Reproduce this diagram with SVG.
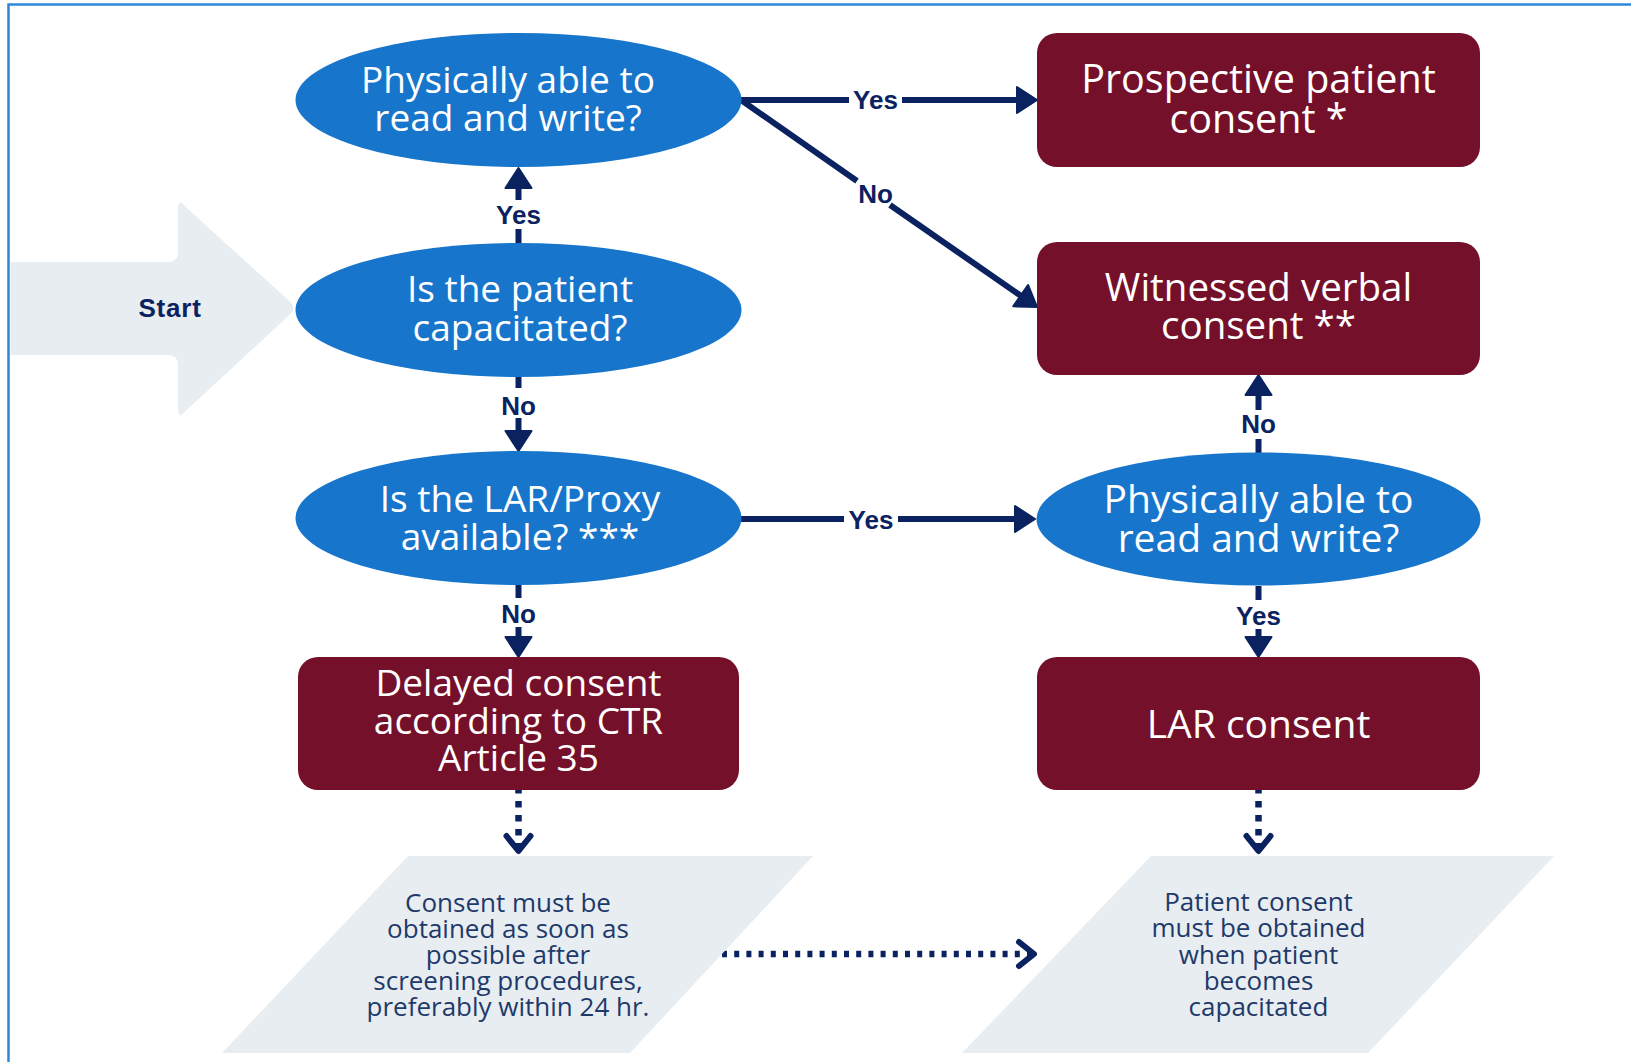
<svg xmlns="http://www.w3.org/2000/svg" width="1631" height="1062" viewBox="0 0 1631 1062">
<style>
.dec{fill:#1775cb}
.box{fill:#75102a}
.nt{font-family:"Open Sans","Liberation Sans",sans-serif;fill:#ffffff;text-anchor:middle}
.para{fill:#e8edf1}
.pt{font-family:"Open Sans","Liberation Sans",sans-serif;font-size:26px;fill:#1e3a6a;text-anchor:middle}
.lbl{font-family:"Liberation Sans","Open Sans",sans-serif;font-weight:bold;font-size:26px;fill:#0b2260;text-anchor:middle}
.ln{stroke:#0b2260;stroke-width:6;fill:none}
.dot{stroke:#0b2260;stroke-width:6.5;fill:none}
</style>
<defs>
<marker id="ah" markerUnits="userSpaceOnUse" viewBox="0 0 22 30" refX="9" refY="15" markerWidth="22" markerHeight="30" orient="auto" overflow="visible">
<path d="M1,2 L21,15 L1,28 Z" fill="#0b2260" stroke="#0b2260" stroke-width="2" stroke-linejoin="round"/>
</marker>
<marker id="cv" markerUnits="userSpaceOnUse" viewBox="-20 -16 24 32" refX="0" refY="0" markerWidth="24" markerHeight="32" orient="auto" overflow="visible">
<path d="M-15,-12 L0,0 L-15,12" fill="none" stroke="#0b2260" stroke-width="6" stroke-linecap="round" stroke-linejoin="round"/>
</marker>
</defs>
<rect width="1631" height="1062" fill="#ffffff"/>
<path d="M8.5,1062 V4.5 H1631" fill="none" stroke="#2b88dc" stroke-width="2.5"/>

<g id="start">
<path d="M10.5,262 H168 Q178,262 178,252 V210 Q178,197 185.4,206.7 L289.6,301.3 Q297,308 289.7,314.8 L185.3,411.2 Q178,420 178,408 V365 Q178,355 168,355 H10.5 Z" fill="#e8edf1"/>
<text x="170" y="317" class="lbl" style="font-size:26px;letter-spacing:0.8px">Start</text>
</g>

<g id="connectors">
<line class="ln" x1="518.5" y1="243" x2="518.5" y2="229"/>
<line class="ln" x1="518.5" y1="200" x2="518.5" y2="180" marker-end="url(#ah)"/>
<text class="lbl" x="518.5" y="224">Yes</text>

<line class="ln" x1="518.5" y1="377" x2="518.5" y2="388"/>
<line class="ln" x1="518.5" y1="418" x2="518.5" y2="439" marker-end="url(#ah)"/>
<text class="lbl" x="518.5" y="415">No</text>

<line class="ln" x1="518.5" y1="585" x2="518.5" y2="598"/>
<line class="ln" x1="518.5" y1="627" x2="518.5" y2="645" marker-end="url(#ah)"/>
<text class="lbl" x="518.5" y="623">No</text>

<line class="ln" x1="741" y1="100" x2="849" y2="100"/>
<line class="ln" x1="902" y1="100" x2="1025" y2="100" marker-end="url(#ah)"/>
<text class="lbl" x="875.5" y="108.5">Yes</text>

<line class="ln" x1="741" y1="100" x2="857" y2="181"/>
<line class="ln" x1="890" y1="205" x2="1027.2" y2="300.2" marker-end="url(#ah)"/>
<text class="lbl" x="875.5" y="203">No</text>

<line class="ln" x1="741" y1="519" x2="844" y2="519"/>
<line class="ln" x1="898" y1="519" x2="1023" y2="519" marker-end="url(#ah)"/>
<text class="lbl" x="871" y="528.5">Yes</text>

<line class="ln" x1="1258.5" y1="453" x2="1258.5" y2="439"/>
<line class="ln" x1="1258.5" y1="410" x2="1258.5" y2="387" marker-end="url(#ah)"/>
<text class="lbl" x="1258.5" y="433">No</text>

<line class="ln" x1="1258.5" y1="586" x2="1258.5" y2="600"/>
<line class="ln" x1="1258.5" y1="629" x2="1258.5" y2="645" marker-end="url(#ah)"/>
<text class="lbl" x="1258.5" y="625">Yes</text>

<line class="dot" x1="518.5" y1="787" x2="518.5" y2="851" stroke-dasharray="6.5 7.5" marker-end="url(#cv)"/>
<line class="dot" x1="1258.5" y1="787" x2="1258.5" y2="851" stroke-dasharray="6.5 7.5" marker-end="url(#cv)"/>
<line class="dot" x1="722" y1="954" x2="1034" y2="954" stroke-width="6" stroke-dasharray="5 7.2" marker-end="url(#cv)"/>
</g>

<g id="q-read-write-1">
<ellipse class="dec" cx="518.5" cy="100" rx="223" ry="67"/>
<text class="nt" x="508" y="93" font-size="37">Physically able to</text>
<text class="nt" x="508" y="131" font-size="37">read and write?</text>
</g>
<g id="q-capacitated">
<ellipse class="dec" cx="518.5" cy="310" rx="223" ry="67"/>
<text class="nt" x="520" y="302" font-size="37">Is the patient</text>
<text class="nt" x="520" y="341" font-size="37">capacitated?</text>
</g>
<g id="q-lar">
<ellipse class="dec" cx="518.5" cy="518" rx="223" ry="67"/>
<text class="nt" x="520" y="512" font-size="37">Is the LAR/Proxy</text>
<text class="nt" x="520" y="550" font-size="37">available? ***</text>
</g>
<g id="q-read-write-2">
<ellipse class="dec" cx="1258.5" cy="519" rx="222" ry="66.5"/>
<text class="nt" x="1258.5" y="513" font-size="39">Physically able to</text>
<text class="nt" x="1258.5" y="552" font-size="39">read and write?</text>
</g>

<g id="prospective">
<rect class="box" x="1037" y="33" width="443" height="134" rx="20"/>
<text class="nt" x="1258.5" y="92.5" font-size="39.5">Prospective patient</text>
<text class="nt" x="1258.5" y="132.5" font-size="39.5">consent *</text>
</g>
<g id="witnessed">
<rect class="box" x="1037" y="242" width="443" height="133" rx="20"/>
<text class="nt" x="1258.5" y="301" font-size="38.5">Witnessed verbal</text>
<text class="nt" x="1258.5" y="339" font-size="38.5">consent **</text>
</g>
<g id="delayed">
<rect class="box" x="298" y="657" width="441" height="133" rx="20"/>
<text class="nt" x="518.5" y="696" font-size="37">Delayed consent</text>
<text class="nt" x="518.5" y="733.5" font-size="37">according to CTR</text>
<text class="nt" x="518.5" y="771" font-size="37">Article 35</text>
</g>
<g id="lar-consent">
<rect class="box" x="1037" y="657" width="443" height="133" rx="20"/>
<text class="nt" x="1258.5" y="737.5" font-size="39">LAR consent</text>
</g>

<g id="note-delayed">
<path class="para" d="M408,856 H813 L630,1053 H222 Z"/>
<text class="pt" x="508" y="912">Consent must be</text>
<text class="pt" x="508" y="938">obtained as soon as</text>
<text class="pt" x="508" y="964">possible after</text>
<text class="pt" x="508" y="990">screening procedures,</text>
<text class="pt" x="508" y="1016">preferably within 24 hr.</text>
</g>
<g id="note-lar">
<path class="para" d="M1151,856 H1554 L1368,1053 H962 Z"/>
<text class="pt" x="1258.5" y="911">Patient consent</text>
<text class="pt" x="1258.5" y="937">must be obtained</text>
<text class="pt" x="1258.5" y="964">when patient</text>
<text class="pt" x="1258.5" y="990">becomes</text>
<text class="pt" x="1258.5" y="1016">capacitated</text>
</g>
</svg>
